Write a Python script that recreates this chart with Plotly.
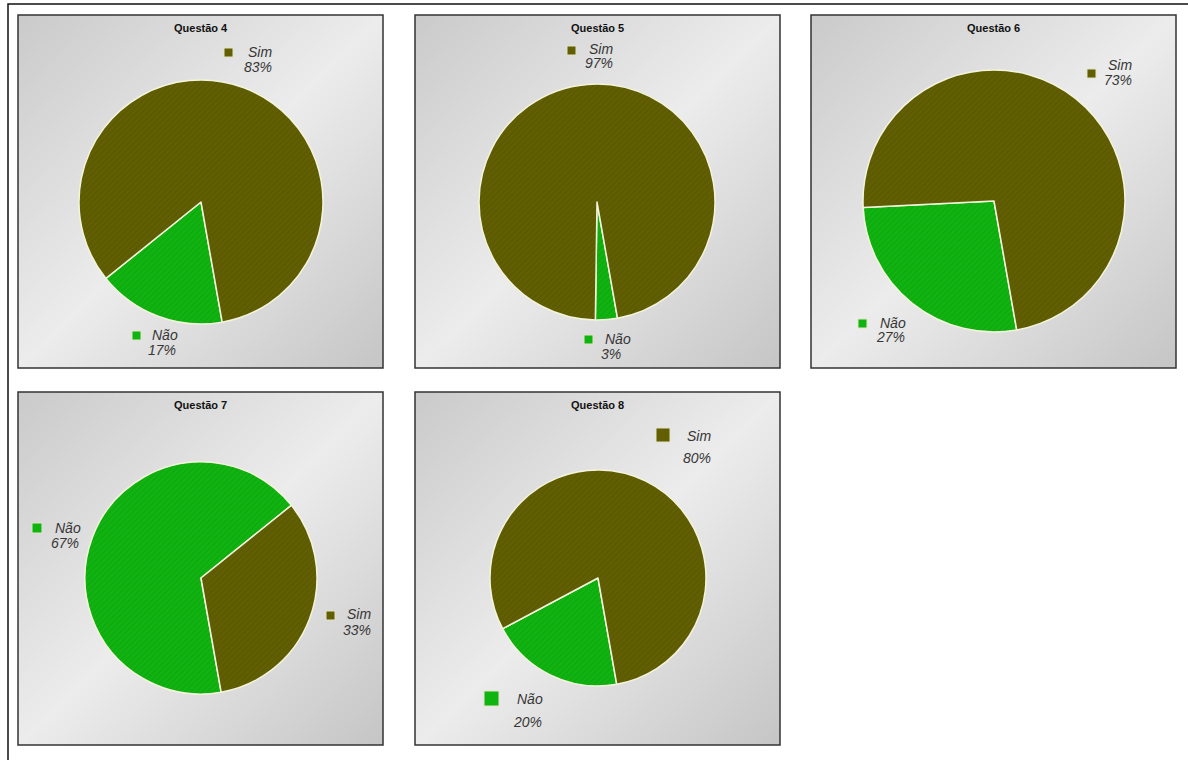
import numpy as np
import plotly.graph_objects as go

# ---- data -------------------------------------------------------------
questoes = ["Questão 4", "Questão 5", "Questão 6", "Questão 7", "Questão 8"]
categorias = ["Não", "Sim"]
pct_nao = [17, 3, 27, 67, 20]
pct_sim = [83, 97, 73, 33, 80]

# ---- layout (pixel units, figure is 1188 x 760) -------------------------
W, H = 1188, 760
paineis = [(18, 15, 383, 368), (415, 15, 780, 368), (811, 15, 1176, 368),
           (18, 392, 383, 745), (415, 392, 780, 745)]
pizzas = [(201, 202, 122), (597, 202, 118), (994, 201, 131),
          (201, 578, 116), (598, 578, 108)]
# per category: (square x0, square y0, square size, text x, line1 y, line2 y)
rotulos = [
    {"Sim": (224, 48, 9, 246, 52, 67), "Não": (132, 331, 9, 150, 335, 350)},
    {"Sim": (567, 46, 9, 587, 49, 63), "Não": (584, 335, 9, 603, 339, 354)},
    {"Sim": (1087, 69, 9, 1106, 65, 80), "Não": (858, 319, 9, 878, 323, 337)},
    {"Não": (32, 523, 10, 53, 528, 543), "Sim": (326, 611, 9, 345, 614, 630)},
    {"Sim": (656, 428, 14, 685, 436, 458), "Não": (484, 691, 15, 515, 699, 722)},
]

COR = {"Sim": "#615f02", "Não": "#10b410"}
COR_ESCURA = {"Sim": "#403e00", "Não": "#0a7e0a"}
COR_TEXTO = "#363636"

fig = go.Figure()

# gradient backgrounds of each panel (diagonal light band)
n = 40
u = np.linspace(0, 1, n)
uu, vv = np.meshgrid(u, u)
t = (uu + vv) / 2.0
for (x0, y0, x1, y1) in paineis:
    fig.add_trace(go.Heatmap(
        z=t, x0=x0 + (x1 - x0) / (2 * n), dx=(x1 - x0) / n,
        y0=y0 + (y1 - y0) / (2 * n), dy=(y1 - y0) / n,
        zmin=0, zmax=1, zsmooth="best", showscale=False, hoverinfo="skip",
        colorscale=[[0.0, "#cbcbcb"], [0.5, "#ececec"], [1.0, "#c6c6c6"]],
        xaxis="x", yaxis="y"))

# pies
for i, (cx, cy, r) in enumerate(pizzas):
    valores = [pct_nao[i], pct_sim[i]]
    fig.add_trace(go.Pie(
        labels=categorias, values=valores, sort=False,
        direction="clockwise", rotation=170,
        textinfo="none", hoverinfo="label+percent",
        showlegend=False,
        marker=dict(
            colors=[COR[c] for c in categorias],
            line=dict(color="#f4f4dc", width=1.5),
            pattern=dict(shape="/", size=4, solidity=0.25, fillmode="replace",
                         bgcolor=[COR[c] for c in categorias],
                         fgcolor=[COR_ESCURA[c] for c in categorias],
                         fgopacity=0.3)),
        domain=dict(x=[(cx - r) / W, (cx + r) / W],
                    y=[1 - (cy + r) / H, 1 - (cy - r) / H]),
    ))

shapes = []
annotations = []

# outer frame
shapes.append(dict(type="rect", xref="x", yref="y", x0=8, y0=4, x1=1200, y1=780,
                   line=dict(color="#111111", width=1.5), layer="above"))

for i, (x0, y0, x1, y1) in enumerate(paineis):
    shapes.append(dict(type="rect", xref="x", yref="y", x0=x0, y0=y0, x1=x1, y1=y1,
                       line=dict(color="#333333", width=1.5), layer="above"))
    annotations.append(dict(
        x=(x0 + x1) / 2, y=y0 + 13, xref="x", yref="y", text=questoes[i],
        showarrow=False, xanchor="center", yanchor="middle",
        font=dict(family="Liberation Sans, Arial", size=11, color="#111111",
                  weight="bold")))
    valores = {"Não": pct_nao[i], "Sim": pct_sim[i]}
    for cat, (sx, sy, s, tx, ty1, ty2) in rotulos[i].items():
        shapes.append(dict(type="rect", xref="x", yref="y", x0=sx, y0=sy,
                           x1=sx + s, y1=sy + s, fillcolor=COR[cat],
                           line=dict(color="#e4e4c8", width=1), layer="above"))
        for txt, yy, dx in ((cat, ty1, 0), (f"{valores[cat]}%", ty2, -4)):
            annotations.append(dict(
                x=tx + dx, y=yy, xref="x", yref="y", text=txt, showarrow=False,
                xanchor="left", yanchor="middle",
                font=dict(family="Liberation Sans, Arial", size=14,
                          color=COR_TEXTO, style="italic")))

fig.update_layout(
    width=W, height=H, margin=dict(l=0, r=0, t=0, b=0),
    paper_bgcolor="white", plot_bgcolor="white",
    xaxis=dict(range=[0, W], domain=[0, 1], visible=False, fixedrange=True),
    yaxis=dict(range=[H, 0], domain=[0, 1], visible=False, fixedrange=True),
    shapes=shapes, annotations=annotations, showlegend=False,
)

fig.write_html("out.html")
